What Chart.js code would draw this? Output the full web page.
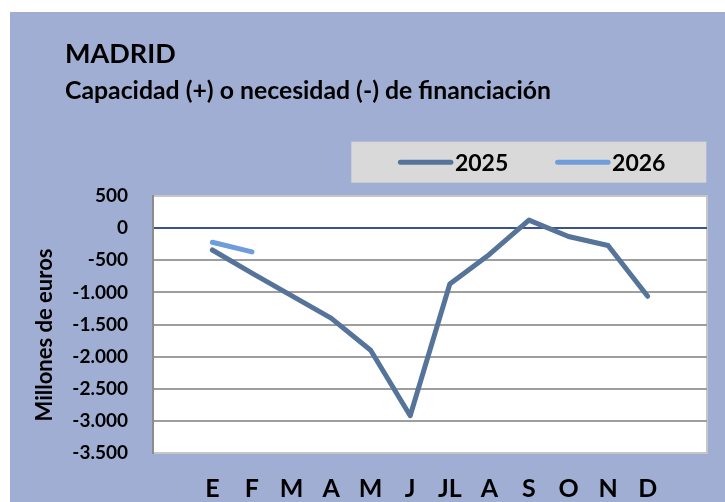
<!DOCTYPE html>
<html>
<head>
<meta charset="utf-8">
<script src="https://cdn.jsdelivr.net/npm/chart.js@4.4.1/dist/chart.umd.min.js"></script>
<style>
  html, body { margin: 0; padding: 0; background: #fff; overflow: hidden; }
  #panel { position: absolute; left: 10px; top: 12px; width: 715px; height: 490px; background: #A0AED3; overflow: hidden; font-family: Lato, sans-serif; color: #000; }
  #title { position: absolute; left: 55px; top: 27.4px; font-size: 27px; font-weight: bold; line-height: 1; white-space: nowrap; }
  #subtitle { position: absolute; left: 55px; top: 66px; font-size: 24.8px; font-weight: bold; line-height: 1; white-space: nowrap; }
  canvas { position: absolute; left: 0; top: 0; }
</style>
</head>
<body>
<div id="panel">
  <canvas id="myChart" width="715" height="490"></canvas>
  <div id="title">MADRID</div>
  <div id="subtitle">Capacidad (+) o necesidad (-) de financiación</div>
</div>
<script>
//meses
var months = ["E", "F", "M", "A", "M", "J", "JL", "A", "S", "O", "N", "D"];
//2025 (millones de euros)
var values_2025 = [-340, -700, -1050, -1400, -1900, -2920, -870, -410, 125, -130, -270, -1060];
//2026 (millones de euros)
var values_2026 = [-220, -370];
//eje Y
var y_ticks = [500, 0, -500, -1000, -1500, -2000, -2500, -3000, -3500];
var y_title = "Millones de euros";

//hueco vacio al principio y al final del eje
var labels = [""].concat(months, [""]);

function fmt(v) {
    var s = String(Math.abs(v)).replace(/\B(?=(\d{3})+(?!\d))/g, ".");
    return (v < 0 ? "-" : "") + s;
}

Chart.defaults.font.family = "Lato";

//fondo blanco del area de trazado
var plotBg = {
    id: "plotBg",
    beforeDraw: function (chart) {
        var a = chart.chartArea, c = chart.ctx;
        c.save();
        c.fillStyle = "#fff";
        c.fillRect(a.left, a.top, a.width, a.height);
        c.strokeStyle = "#C6C6C6";
        c.lineWidth = 2;
        c.strokeRect(a.left, a.top, a.width, a.height);
        c.restore();
    }
};

//titulo del eje Y (un poco por debajo del centro, como el original)
var yTitle = {
    id: "yTitle",
    afterDraw: function (chart) {
        var a = chart.chartArea, c = chart.ctx;
        c.save();
        c.translate(35.2, (a.top + a.bottom) / 2 + 10.5);
        c.rotate(-Math.PI / 2);
        c.font = "bold 22px Lato";
        c.fillStyle = "#000";
        c.textAlign = "center";
        c.textBaseline = "middle";
        c.fillText(y_title, 0, 0);
        c.restore();
    }
};

//leyenda en caja gris
var legendBox = {
    id: "legendBox",
    afterDraw: function (chart) {
        var a = chart.chartArea, c = chart.ctx;
        var w = 355, h = 41;
        var left = a.right - 0.7 - w, top = a.top - 54.3;
        var cy = top + h / 2;
        c.save();
        c.fillStyle = "#D9D9D9";
        c.fillRect(left, top, w, h);
        c.font = "bold 23px Lato";
        c.textBaseline = "middle";
        c.textAlign = "left";
        chart.data.datasets.forEach(function (ds, i) {
            var x = left + 46.6 + i * 157.2;
            c.strokeStyle = ds.borderColor;
            c.lineWidth = 5;
            c.lineCap = "round";
            c.beginPath();
            c.moveTo(x + 2.5, cy);
            c.lineTo(x + 53, cy);
            c.stroke();
            c.fillStyle = "#000";
            c.fillText(ds.label, x + 57, cy + 1);
        });
        c.restore();
    }
};

var ctx = document.getElementById("myChart");
var myChart = new Chart(ctx, {
    type: "line",
    data: {
        labels: labels,
        datasets: [
            {
                label: "2025",
                data: [null].concat(values_2025, [null]),
                borderColor: "#56739A",
                backgroundColor: "#56739A",
                borderWidth: 5,
                borderCapStyle: "round",
                borderJoinStyle: "round",
                pointRadius: 0,
                tension: 0
            },
            {
                label: "2026",
                data: [null].concat(values_2026),
                borderColor: "#6F9CDB",
                backgroundColor: "#6F9CDB",
                borderWidth: 5,
                borderCapStyle: "round",
                borderJoinStyle: "round",
                pointRadius: 0,
                tension: 0
            }
        ]
    },
    options: {
        responsive: false,
        animation: false,
        layout: { padding: { left: 0, right: 18, top: 184, bottom: 0 } },
        plugins: {
            legend: { display: false },
            title: { display: false },
            tooltip: { enabled: false }
        },
        scales: {
            x: {
                offset: true,
                grid: { display: false, drawTicks: false },
                border: { display: false },
                ticks: {
                    color: "#000",
                    font: { size: 25, weight: "bold" },
                    padding: 21,
                    maxRotation: 0,
                    autoSkip: false
                },
                afterFit: function (s) { s.height = 49; }
            },
            y: {
                min: -3500,
                max: 500,
                afterBuildTicks: function (s) {
                    s.ticks = y_ticks.map(function (v) { return { value: v }; });
                },
                grid: {
                    color: function (c) {
                        var v = c.tick.value;
                        if (v === 0) return "#3C5290";
                        if (v === 500 || v === -3500) return "#C6C6C6";
                        return "#9E9E9E";
                    },
                    lineWidth: 2,
                    drawTicks: true,
                    tickLength: 25,
                    tickColor: "rgba(0,0,0,0)"
                },
                border: { display: true, color: "#8C8C8C", width: 2 },
                ticks: {
                    color: "#000",
                    font: { size: 19, weight: "bold" },
                    padding: 0,
                    callback: function (v) { return fmt(v); }
                },
                afterFit: function (s) { s.width = 143; }
            }
        }
    },
    plugins: [plotBg, yTitle, legendBox]
});
</script>
</body>
</html>
